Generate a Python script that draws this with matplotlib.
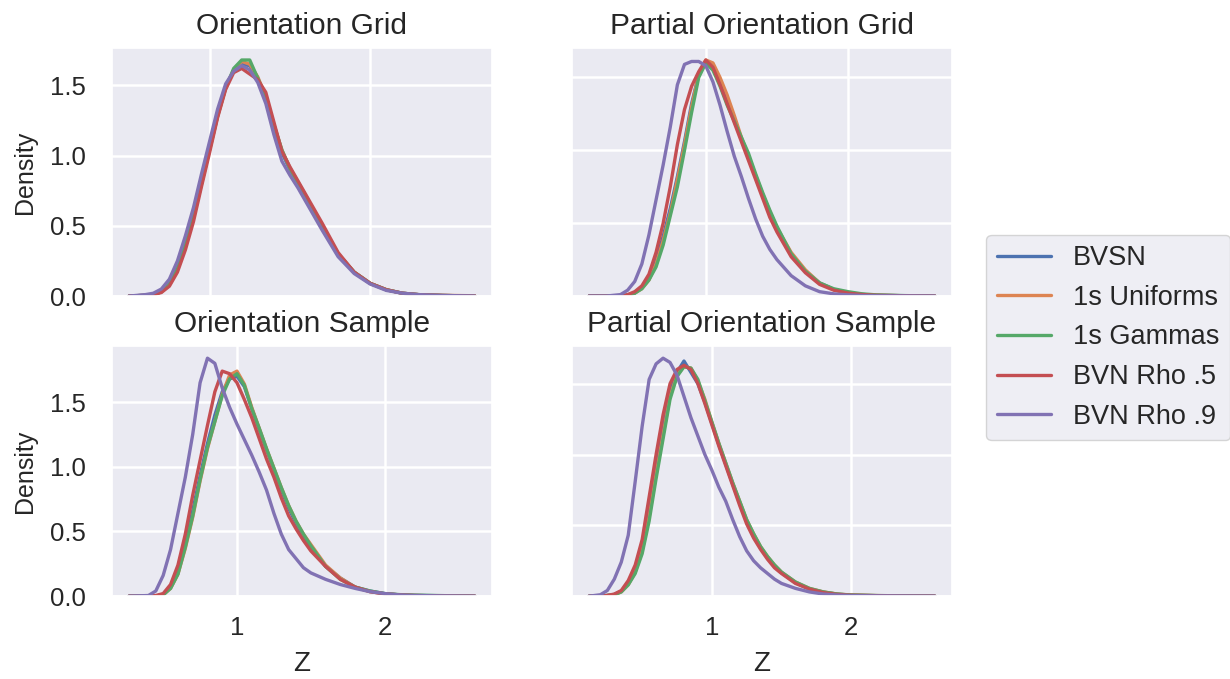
import matplotlib
matplotlib.use("Agg")
import matplotlib.pyplot as plt
import seaborn as sns

series_names = ["BVSN", "1s Uniforms", "1s Gammas", "BVN Rho .5", "BVN Rho .9"]
panel_titles = ["Orientation Grid", "Partial Orientation Grid",
                "Orientation Sample", "Partial Orientation Sample"]

# Orientation Grid (density curves)
og_z = [0.50, 0.60, 0.65, 0.70, 0.75, 0.80, 0.85, 0.90, 0.95, 1.00, 1.05, 1.10, 1.15, 1.20, 1.25, 1.30,
        1.35, 1.40, 1.45, 1.50, 1.55, 1.60, 1.70, 1.80, 1.90, 2.00, 2.10, 2.20, 2.30, 2.45, 2.65]
og_bvsn = [0.0, 0.005, 0.01, 0.03, 0.09, 0.21, 0.38, 0.58, 0.82, 1.06, 1.30, 1.49, 1.60, 1.65, 1.64, 1.55,
           1.40, 1.20, 1.02, 0.90, 0.80, 0.70, 0.49, 0.30, 0.17, 0.09, 0.045, 0.02, 0.01, 0.004, 0.0]
og_unif = [0.0, 0.005, 0.01, 0.03, 0.08, 0.19, 0.36, 0.56, 0.80, 1.04, 1.28, 1.48, 1.61, 1.67, 1.65, 1.56,
           1.42, 1.22, 1.04, 0.91, 0.81, 0.71, 0.50, 0.30, 0.17, 0.09, 0.045, 0.02, 0.01, 0.005, 0.002]
og_gamma = [0.0, 0.005, 0.01, 0.03, 0.08, 0.19, 0.36, 0.56, 0.80, 1.04, 1.28, 1.48, 1.62, 1.68, 1.68, 1.55,
            1.42, 1.22, 1.04, 0.91, 0.81, 0.71, 0.50, 0.30, 0.17, 0.09, 0.045, 0.02, 0.01, 0.004, 0.0]
og_rho5 = [0.0, 0.005, 0.01, 0.025, 0.07, 0.17, 0.33, 0.53, 0.78, 1.02, 1.27, 1.47, 1.59, 1.62, 1.58, 1.54,
           1.45, 1.24, 1.03, 0.92, 0.82, 0.72, 0.52, 0.31, 0.17, 0.09, 0.045, 0.02, 0.01, 0.004, 0.0]
og_rho9 = [0.0, 0.01, 0.02, 0.05, 0.12, 0.25, 0.43, 0.63, 0.87, 1.10, 1.33, 1.51, 1.60, 1.64, 1.61, 1.52,
           1.37, 1.15, 0.96, 0.86, 0.77, 0.67, 0.47, 0.28, 0.16, 0.085, 0.04, 0.02, 0.01, 0.004, 0.0]

# Partial Orientation Grid
pg_z = [0.18, 0.30, 0.40, 0.45, 0.50, 0.55, 0.60, 0.65, 0.70, 0.75, 0.80, 0.85, 0.90, 0.95, 1.00, 1.05, 1.10,
        1.15, 1.20, 1.25, 1.30, 1.35, 1.40, 1.45, 1.50, 1.60, 1.70, 1.80, 1.90, 2.00, 2.10, 2.20, 2.40, 2.61]
pg_bvsn = [0.0, 0.0, 0.0, 0.008, 0.02, 0.06, 0.12, 0.24, 0.41, 0.60, 0.82, 1.06, 1.32, 1.52, 1.61, 1.58, 1.47,
           1.35, 1.22, 1.08, 0.95, 0.82, 0.69, 0.57, 0.46, 0.29, 0.17, 0.09, 0.045, 0.022, 0.011, 0.005, 0.002, 0.0]
pg_unif = [0.0, 0.0, 0.0, 0.005, 0.02, 0.05, 0.11, 0.22, 0.38, 0.57, 0.80, 1.04, 1.30, 1.52, 1.62, 1.60, 1.50,
           1.38, 1.24, 1.09, 0.96, 0.83, 0.70, 0.58, 0.47, 0.30, 0.18, 0.09, 0.045, 0.022, 0.011, 0.005, 0.002, 0.0]
pg_gamma = [0.0, 0.0, 0.0, 0.005, 0.02, 0.05, 0.11, 0.20, 0.35, 0.55, 0.75, 1.00, 1.26, 1.50, 1.60, 1.55, 1.44,
            1.31, 1.20, 1.09, 0.98, 0.84, 0.71, 0.59, 0.48, 0.29, 0.17, 0.09, 0.05, 0.03, 0.015, 0.008, 0.003, 0.0]
pg_rho5 = [0.0, 0.0, 0.0, 0.01, 0.03, 0.07, 0.15, 0.30, 0.50, 0.75, 1.04, 1.28, 1.44, 1.54, 1.62, 1.57, 1.45,
           1.32, 1.19, 1.06, 0.93, 0.80, 0.67, 0.54, 0.44, 0.27, 0.16, 0.08, 0.04, 0.02, 0.01, 0.005, 0.002, 0.0]
pg_rho9 = [0.0, 0.0, 0.01, 0.04, 0.10, 0.22, 0.42, 0.66, 0.90, 1.16, 1.45, 1.59, 1.61, 1.61, 1.58, 1.47, 1.31,
           1.13, 0.96, 0.82, 0.67, 0.53, 0.41, 0.32, 0.25, 0.14, 0.07, 0.03, 0.015, 0.008, 0.004, 0.002, 0.001, 0.0]

# Orientation Sample
os_z = [0.27, 0.40, 0.45, 0.50, 0.55, 0.60, 0.65, 0.70, 0.75, 0.80, 0.85, 0.90, 0.95, 1.00, 1.05, 1.10, 1.15,
        1.20, 1.25, 1.30, 1.35, 1.40, 1.45, 1.50, 1.60, 1.70, 1.80, 1.90, 2.00, 2.10, 2.20, 2.40, 2.61]
os_bvsn = [0.0, 0.0, 0.0, 0.015, 0.07, 0.19, 0.41, 0.66, 0.93, 1.18, 1.40, 1.58, 1.68, 1.70, 1.62, 1.45, 1.29,
           1.13, 0.98, 0.82, 0.68, 0.56, 0.46, 0.38, 0.23, 0.14, 0.07, 0.04, 0.02, 0.01, 0.006, 0.003, 0.0]
os_unif = [0.0, 0.0, 0.0, 0.01, 0.06, 0.17, 0.37, 0.61, 0.89, 1.14, 1.35, 1.56, 1.71, 1.74, 1.64, 1.46, 1.30,
           1.14, 0.99, 0.84, 0.70, 0.58, 0.48, 0.40, 0.24, 0.14, 0.07, 0.035, 0.018, 0.01, 0.005, 0.002, 0.0]
os_gamma = [0.0, 0.0, 0.0, 0.01, 0.06, 0.17, 0.38, 0.62, 0.90, 1.15, 1.35, 1.55, 1.68, 1.72, 1.63, 1.45, 1.30,
            1.14, 0.99, 0.84, 0.70, 0.58, 0.48, 0.39, 0.23, 0.13, 0.07, 0.04, 0.02, 0.012, 0.008, 0.004, 0.0]
os_rho5 = [0.0, 0.0, 0.005, 0.02, 0.09, 0.24, 0.48, 0.78, 1.05, 1.32, 1.58, 1.74, 1.72, 1.65, 1.52, 1.38, 1.22,
           1.06, 0.92, 0.76, 0.62, 0.52, 0.43, 0.35, 0.23, 0.13, 0.07, 0.035, 0.018, 0.01, 0.005, 0.002, 0.0]
os_rho9 = [0.0, 0.005, 0.04, 0.16, 0.36, 0.64, 0.92, 1.25, 1.65, 1.84, 1.80, 1.61, 1.46, 1.33, 1.21, 1.09, 0.96,
           0.82, 0.64, 0.48, 0.36, 0.29, 0.22, 0.18, 0.13, 0.09, 0.06, 0.035, 0.02, 0.01, 0.005, 0.002, 0.0]

# Partial Orientation Sample
ps_z = [0.12, 0.20, 0.25, 0.30, 0.35, 0.40, 0.45, 0.50, 0.55, 0.60, 0.65, 0.70, 0.75, 0.80, 0.85, 0.90, 0.95,
        1.00, 1.05, 1.10, 1.15, 1.20, 1.25, 1.30, 1.35, 1.40, 1.45, 1.50, 1.60, 1.70, 1.80, 1.90, 2.00, 2.20,
        2.40, 2.60]
ps_bvsn = [0.0, 0.0, 0.005, 0.012, 0.035, 0.09, 0.19, 0.34, 0.60, 0.90, 1.18, 1.44, 1.58, 1.66, 1.58, 1.50,
           1.37, 1.22, 1.07, 0.93, 0.79, 0.66, 0.53, 0.43, 0.34, 0.27, 0.21, 0.165, 0.095, 0.05, 0.028, 0.014,
           0.007, 0.003, 0.001, 0.0]
ps_unif = [0.0, 0.0, 0.005, 0.01, 0.03, 0.08, 0.17, 0.32, 0.56, 0.86, 1.14, 1.41, 1.56, 1.62, 1.61, 1.52,
           1.39, 1.23, 1.08, 0.94, 0.80, 0.67, 0.54, 0.44, 0.35, 0.28, 0.22, 0.17, 0.10, 0.055, 0.03, 0.015,
           0.008, 0.004, 0.002, 0.0]
ps_gamma = [0.0, 0.0, 0.005, 0.01, 0.03, 0.08, 0.16, 0.30, 0.53, 0.83, 1.11, 1.39, 1.55, 1.62, 1.61, 1.53,
            1.38, 1.23, 1.08, 0.94, 0.80, 0.67, 0.54, 0.44, 0.35, 0.28, 0.22, 0.17, 0.10, 0.055, 0.03, 0.015,
            0.008, 0.004, 0.002, 0.0]
ps_rho5 = [0.0, 0.0, 0.005, 0.015, 0.04, 0.11, 0.22, 0.40, 0.70, 1.00, 1.28, 1.50, 1.60, 1.63, 1.60, 1.50,
           1.36, 1.21, 1.06, 0.92, 0.78, 0.64, 0.51, 0.41, 0.33, 0.26, 0.20, 0.16, 0.09, 0.05, 0.025, 0.012,
           0.006, 0.003, 0.001, 0.0]
ps_rho9 = [0.0, 0.01, 0.04, 0.12, 0.24, 0.43, 0.81, 1.20, 1.53, 1.64, 1.68, 1.65, 1.56, 1.41, 1.26, 1.13,
           1.00, 0.89, 0.77, 0.67, 0.54, 0.42, 0.32, 0.25, 0.20, 0.16, 0.12, 0.09, 0.055, 0.03, 0.015, 0.008,
           0.004, 0.002, 0.001, 0.0]

panels = [
    (og_z, [og_bvsn, og_unif, og_gamma, og_rho5, og_rho9]),
    (pg_z, [pg_bvsn, pg_unif, pg_gamma, pg_rho5, pg_rho9]),
    (os_z, [os_bvsn, os_unif, os_gamma, os_rho5, os_rho9]),
    (ps_z, [ps_bvsn, ps_unif, ps_gamma, ps_rho5, ps_rho9]),
]

sns.set_theme(style="darkgrid")
plt.rcParams["font.family"] = ["Liberation Sans", "DejaVu Sans"]
plt.rcParams["grid.linewidth"] = 1.8
colors = sns.color_palette("deep")

fig = plt.figure(figsize=(12.3, 6.79), dpi=100)
# axes boxes in figure fractions: left, bottom, width, height
boxes = [(0.091, 0.564, 0.309, 0.365), (0.465, 0.564, 0.309, 0.365),
         (0.091, 0.122, 0.309, 0.368), (0.465, 0.122, 0.309, 0.368)]

for i, (box, title, (z, curves)) in enumerate(zip(boxes, panel_titles, panels)):
    ax = fig.add_axes(box)
    for name, dens, c in zip(series_names, curves, colors):
        ax.plot(z, dens, color=c, lw=2.4, label=name)
    ax.margins(x=0.05, y=0.05)
    ax.set_ylim(bottom=0)
    ax.set_xticks([1, 2])
    ax.set_yticks([0, 0.5, 1.0, 1.5])
    ax.tick_params(labelsize=18.5, colors="0.15")
    ax.tick_params(axis="y", pad=13)
    ax.tick_params(axis="x", pad=8)
    ax.set_title(title, fontsize=21.5, color="0.15", pad=10)
    if i % 2 == 0:
        ax.set_ylabel("Density", fontsize=18, color="0.15", labelpad=9)
    else:
        ax.set_yticklabels([])
    if i >= 2:
        ax.set_xlabel("Z", fontsize=20, color="0.15", labelpad=8)
    else:
        ax.set_xticklabels([])

handles, labels = ax.get_legend_handles_labels()
fig.legend(handles, labels, loc="center left", bbox_to_anchor=(0.802, 0.503),
           borderaxespad=0, fontsize=19.5, handlelength=2.0)

fig.savefig("out.png", dpi=100)
